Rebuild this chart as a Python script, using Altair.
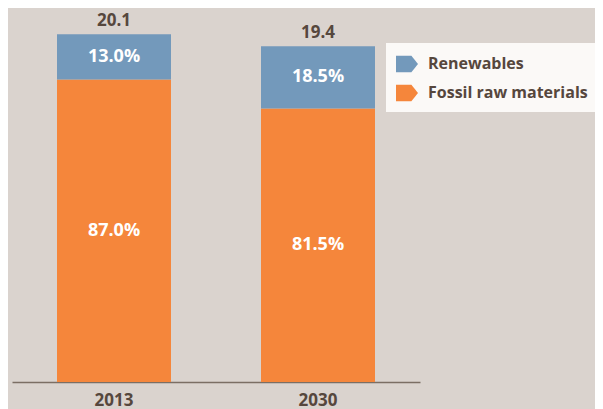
import altair as alt
import pandas as pd

years = ["2013", "2030"]
totals = [20.1, 19.4]
share_renewables = [13.0, 18.5]
share_fossil = [87.0, 81.5]
series = ["Renewables", "Fossil raw materials"]
colors = ["#7399bb", "#f5863b"]

rows = []
for yr, tot, sr, sf in zip(years, totals, share_renewables, share_fossil):
    vf = tot * sf / 100.0
    vr = tot - vf
    rows.append({"year": yr, "series": series[1], "value": vf, "start": 0.0, "end": vf,
                 "mid": vf / 2, "label": f"{sf:.1f}%", "rank": 0})
    rows.append({"year": yr, "series": series[0], "value": vr, "start": vf, "end": tot,
                 "mid": vf + vr / 2, "label": f"{sr:.1f}%", "rank": 1})
df = pd.DataFrame(rows)
tot_df = pd.DataFrame({"year": years, "total": totals, "tlabel": [f"{t:.1f}" for t in totals]})

FONT = "Open Sans"
WEIGHT = "bold"
TXT = "#56473d"

x = alt.X("year:N", title=None, sort=years,
          axis=alt.Axis(labelAngle=0, ticks=False, domainColor="#7b6e64", domainWidth=1.5,
                        labelFontSize=17, labelFontWeight=WEIGHT, labelColor=TXT,
                        labelFont=FONT, labelPadding=10))
yscale = alt.Scale(domain=[0, 21.5])

bars = alt.Chart(df).mark_bar(size=114).encode(
    x=x,
    y=alt.Y("start:Q", scale=yscale, axis=None),
    y2="end:Q",
    color=alt.Color("series:N", scale=alt.Scale(domain=series, range=colors),
                    legend=alt.Legend(title=None, orient="none", legendX=374, legendY=33,
                                      fillColor="#fbf9f7", padding=10, labelFont=FONT,
                                      labelFontSize=16, labelFontWeight=WEIGHT,
                                      labelColor=TXT, labelLimit=400,
                                      symbolType="M-1,-0.75 L0.4,-0.75 L1,0 L0.4,0.75 L-1,0.75 Z",
                                      symbolSize=484, symbolStrokeWidth=0, symbolOpacity=1,
                                      rowPadding=9, labelOffset=10)),
)

pct = alt.Chart(df).mark_text(color="white", font=FONT, fontSize=18, fontWeight=WEIGHT,
                              baseline="middle").encode(
    x=alt.X("year:N", sort=years),
    y=alt.Y("mid:Q", scale=yscale),
    text="label:N",
)

tot = alt.Chart(tot_df).mark_text(color=TXT, font=FONT, fontSize=17, fontWeight=WEIGHT,
                                  baseline="alphabetic", dy=-8).encode(
    x=alt.X("year:N", sort=years),
    y=alt.Y("total:Q", scale=yscale),
    text="tlabel:N",
)

chart = alt.layer(bars, pct, tot).properties(
    width=408, height=372,
    autosize=alt.AutoSizeParams(type="none"),
    padding={"left": 4, "top": 2, "right": 175, "bottom": 27},
    background="#dad3ce",
).configure_view(stroke=None)

chart.save("out.html", embed_options={"renderer": "svg", "actions": False})
